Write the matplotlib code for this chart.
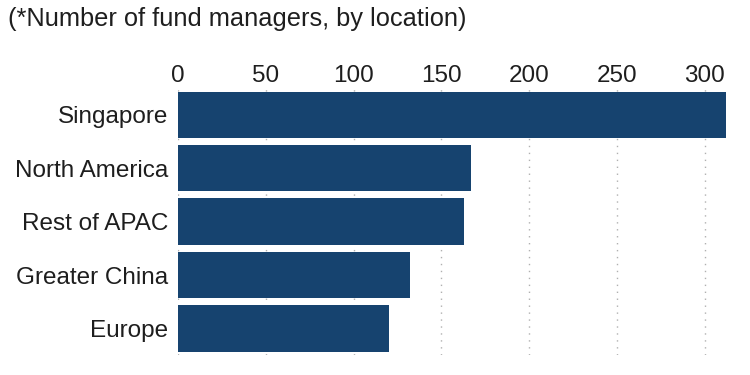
import matplotlib.pyplot as plt

locations = ["Singapore", "North America", "Rest of APAC", "Greater China", "Europe"]
managers = [312, 167, 163, 132, 120]
xticks = [0, 50, 100, 150, 200, 250, 300]

plt.rcParams['font.family'] = ['Liberation Sans', 'DejaVu Sans']

fig = plt.figure(figsize=(7.5, 3.75), dpi=100)
ax = fig.add_axes([0.2373, 0.053, 0.749, 0.712])

ax.barh(range(len(locations)), managers, height=0.87, color='#16436f', zorder=2)

ax.set_xlim(0, 320)
ax.set_ylim(4.5, -0.5)
ax.set_xticks(xticks)
ax.set_yticks(range(len(locations)))
ax.set_yticklabels(locations)

ax.xaxis.tick_top()
ax.tick_params(axis='x', length=0, pad=1, labelsize=17.5, colors='#1e1e1e')
ax.tick_params(axis='y', length=0, pad=7, labelsize=17.5, colors='#1e1e1e')
ax.grid(axis='x', linestyle=(0, (1, 4)), color='#b0b0b0', linewidth=1, zorder=0)
ax.set_axisbelow(True)
for s in ax.spines.values():
    s.set_visible(False)

fig.text(0.011, 0.931, "(*Number of fund managers, by location)",
         fontsize=18.3, color='#1e1e1e', va='baseline', ha='left')

fig.savefig('out.png', dpi=100)
